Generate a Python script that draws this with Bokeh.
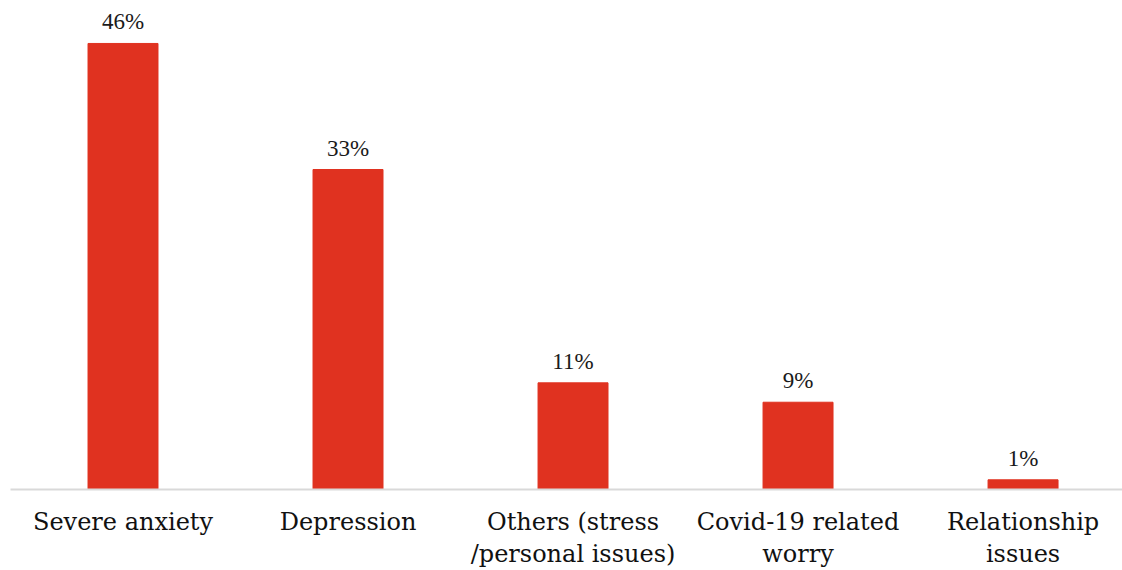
from bokeh.plotting import figure
from bokeh.models import Range1d, FixedTicker, ColumnDataSource, LabelSet
from bokeh.embed import file_html
from bokeh.resources import INLINE

categories = ["Severe anxiety", "Depression", "Others (stress\n/personal issues)",
              "Covid-19 related\nworry", "Relationship\nissues"]
shares = [46, 33, 11, 9, 1]
share_labels = [f"{v}%" for v in shares]

FONT = "DejaVu Serif"
BAR_COLOR = "#E03220"

xs = list(range(len(categories)))
source = ColumnDataSource(dict(x=xs, top=shares, label=share_labels))

p = figure(width=1122, height=570, output_backend="svg", toolbar_location=None,
           x_range=Range1d(-0.5, 4.442), y_range=Range1d(0, 50.43),
           min_border_left=10, min_border_right=0, min_border_top=0,
           min_border_bottom=81)
p.outline_line_color = None
p.background_fill_color = "white"
p.border_fill_color = "white"
p.grid.visible = False
p.yaxis.visible = False

p.vbar(x="x", top="top", bottom=0, width=0.311, color=BAR_COLOR, source=source)

labels = LabelSet(x="x", y="top", text="label", source=source,
                  text_align="center", text_baseline="bottom", y_offset=9,
                  text_font=FONT, text_font_size="23px", text_color="#1a1a1a")
p.add_layout(labels)

ax = p.xaxis[0]
ax.ticker = FixedTicker(ticks=xs)
ax.major_label_overrides = {i: c for i, c in enumerate(categories)}
ax.major_tick_line_color = None
ax.minor_tick_line_color = None
ax.axis_line_color = "#D9D9D9"
ax.axis_line_width = 2
ax.major_label_standoff = 12
ax.major_label_text_font = FONT
ax.major_label_text_font_size = "24px"
ax.major_label_text_line_height = 1.15
ax.major_label_text_color = "#111111"

open("out.html", "w").write(file_html(p, INLINE))
